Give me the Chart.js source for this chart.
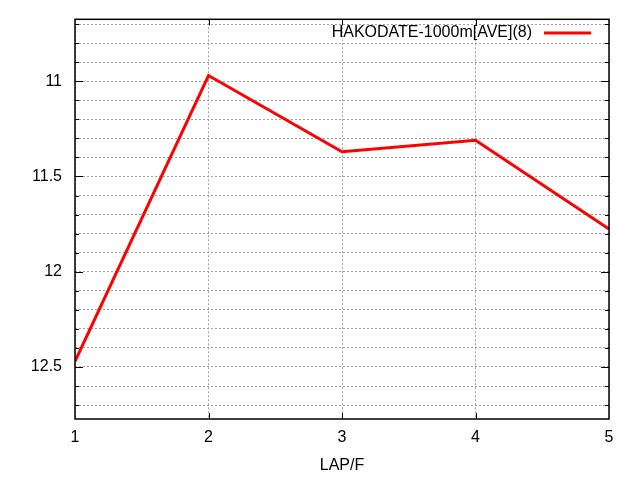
<!DOCTYPE html>
<html>
<head>
<meta charset="utf-8">
<script src="https://cdn.jsdelivr.net/npm/chart.js@4"></script>
<style>
html,body{margin:0;padding:0;background:#fff;}
#wrap{width:640px;height:480px;}
</style>
</head>
<body>
<div id="wrap"><canvas id="c" width="640" height="480"></canvas></div>
<script>
const laps = [1, 2, 3, 4, 5];
const aveTimes = [12.47, 10.97, 11.37, 11.31, 11.776];
const seriesLabel = 'HAKODATE-1000m[AVE](8)';
const xTitle = 'LAP/F';
const yMin = 10.675;
const yMax = 12.773;

const FONT = 'Liberation Sans, Arial, sans-serif';

const insideLegend = {
  id: 'insideLegend',
  afterDatasetsDraw(chart) {
    const ctx = chart.ctx;
    const ds = chart.data.datasets[0];
    const y = 33;
    ctx.save();
    ctx.font = '16px ' + FONT;
    ctx.fillStyle = '#000';
    ctx.textAlign = 'right';
    ctx.textBaseline = 'middle';
    ctx.fillText(ds.label, 532, y);
    ctx.strokeStyle = ds.borderColor;
    ctx.lineWidth = 3;
    ctx.beginPath();
    ctx.moveTo(544, y);
    ctx.lineTo(591, y);
    ctx.stroke();
    ctx.restore();
  }
};

const innerTicks = {
  id: 'innerTicks',
  afterDraw(chart) {
    const ctx = chart.ctx;
    const a = chart.chartArea;
    const ys = chart.scales.y, xs = chart.scales.x;
    ctx.save();
    ctx.strokeStyle = '#000';
    ctx.lineWidth = 1;
    ctx.beginPath();
    ys.ticks.forEach(t => {
      const p = Math.round(ys.getPixelForValue(t.value)) + 0.5;
      if (p <= a.top + 1 || p >= a.bottom - 1) return;
      const major = Math.abs(t.value * 2 - Math.round(t.value * 2)) < 1e-6;
      const L = major ? 8 : 4;
      ctx.moveTo(a.left, p); ctx.lineTo(a.left + L, p);
      ctx.moveTo(a.right, p); ctx.lineTo(a.right - L, p);
    });
    xs.ticks.forEach(t => {
      const p = Math.round(xs.getPixelForValue(t.value)) + 0.5;
      if (p <= a.left + 1 || p >= a.right - 1) return;
      ctx.moveTo(p, a.bottom); ctx.lineTo(p, a.bottom - 6);
      ctx.moveTo(p, a.top); ctx.lineTo(p, a.top + 6);
    });
    ctx.stroke();
    ctx.lineWidth = 1.5;
    ctx.strokeRect(a.left, a.top, a.right - a.left, a.bottom - a.top);
    ctx.restore();
  }
};

new Chart(document.getElementById('c'), {
  type: 'line',
  data: {
    datasets: [{
      label: seriesLabel,
      data: laps.map((x, i) => ({x: x, y: aveTimes[i]})),
      borderColor: '#ff0000',
      borderWidth: 3,
      pointRadius: 0,
      fill: false,
      tension: 0
    }]
  },
  options: {
    responsive: false,
    animation: false,
    layout: {padding: {top: 19.3, right: 31, left: 0, bottom: 0}},
    plugins: {legend: {display: false}, tooltip: {enabled: false}},
    scales: {
      x: {
        type: 'linear',
        min: 1, max: 5,
        afterFit(s) { s.height = 61; },
        ticks: {stepSize: 1, color: '#000', font: {family: FONT, size: 16}, padding: 9},
        grid: {color: '#a0a0a0', lineWidth: 1, drawTicks: false},
        border: {display: false, dash: [2, 2]},
        title: {display: true, text: xTitle, color: '#000', font: {family: FONT, size: 16}, padding: {top: 0, bottom: 5}}
      },
      y: {
        type: 'linear',
        reverse: true,
        min: yMin, max: yMax,
        afterFit(s) { s.width = 75; s.paddingTop = 0; s.paddingBottom = 0; },
        afterBuildTicks(s) {
          const t = [];
          for (let v = 10.7; v <= 12.75; v += 0.1) t.push({value: Math.round(v * 10) / 10});
          s.ticks = t;
        },
        ticks: {
          color: '#000', font: {family: FONT, size: 16}, padding: 13,
          autoSkip: false,
          callback(v) {
            const r = Math.round(v * 10) / 10;
            return Math.abs(r * 2 - Math.round(r * 2)) < 1e-6 ? String(r) : '';
          }
        },
        grid: {color: '#a0a0a0', lineWidth: 1, drawTicks: false},
        border: {display: false, dash: [2, 2]}
      }
    }
  },
  plugins: [insideLegend, innerTicks]
});
</script>
</body>
</html>
